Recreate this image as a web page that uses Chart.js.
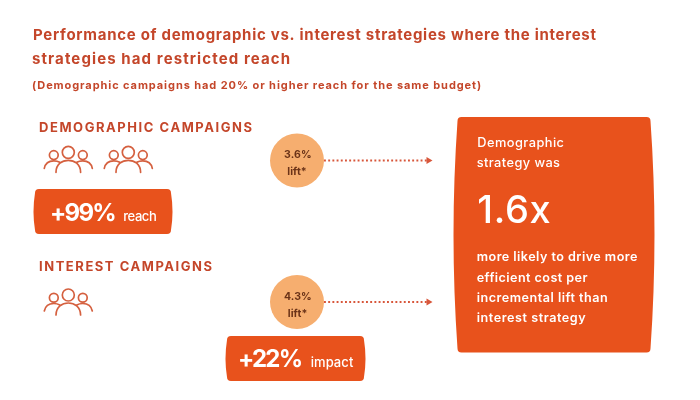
<!DOCTYPE html>
<html><head><meta charset="utf-8">
<style>html,body{margin:0;padding:0;background:#fff}canvas{display:block}</style>
<script src="https://cdn.jsdelivr.net/npm/chart.js@4"></script>
</head><body>
<canvas id="c" width="700" height="400"></canvas>
<script>
// ---- data ----
const titleLines = ["Performance of demographic vs. interest strategies where the interest", "strategies had restricted reach"];
const subtitle = "(Demographic campaigns had 20% or higher reach for the same budget)";
const categories = ["DEMOGRAPHIC CAMPAIGNS", "INTEREST CAMPAIGNS"];
const liftValues = [3.6, 4.3];
const gainValues = [99, 22];
const gainUnits = ["reach", "impact"];
const iconCounts = [2, 1];
const multiplier = 1.6;
const panelIntro = ["Demographic", "strategy was"];
const panelBody = ["more likely to drive more", "efficient cost per", "incremental lift than", "interest strategy"];

// ---- layout (scale units equal canvas pixels) ----
const FONT = "Inter, 'Noto Sans', sans-serif";
const ORANGE = "#e8521c", HEAD = "#c4462a", PEACH = "#f6ae6f", LINE = "#d5603f";
const rowY = [160.5, 302];
const circleX = 297, arrowX0 = 324, arrowX1 = 428.5;

const liftPoints = liftValues.map((v, i) => ({x: circleX, y: rowY[i], v}));
const arrowSets = rowY.map(y => ({
  type: "scatter", showLine: true, order: 2,
  data: [{x: arrowX0, y}, {x: arrowX1, y}],
  borderColor: "#d8563a", borderWidth: 1.9, borderDash: [1.9, 2.3],
  pointStyle: "triangle", rotation: 90,
  pointRadius: [0, 4], pointBackgroundColor: "#d8563a", pointBorderWidth: 0
}));

function txt(ctx, s, x, base, font, color, width) {
  ctx.save();
  ctx.font = font; ctx.fillStyle = color; ctx.textAlign = "left"; ctx.textBaseline = "alphabetic";
  ctx.letterSpacing = "0px";
  if (width) {
    const m = ctx.measureText(s).width;
    ctx.letterSpacing = ((width - m) / Math.max(1, s.length - 1)).toFixed(3) + "px";
  }
  ctx.fillText(s, x, base);
  ctx.restore();
}
function barrel(ctx, X, Y, x0, y0, x1, y1, b, r, color) {
  const l = X(x0), t = Y(y0), R = X(x1), B = Y(y1), m = (t + B) / 2;
  ctx.save(); ctx.fillStyle = color; ctx.beginPath();
  ctx.moveTo(l + r, t); ctx.lineTo(R - r, t);
  ctx.quadraticCurveTo(R, t, R, t + r);
  ctx.quadraticCurveTo(R + 2 * b, m, R, B - r);
  ctx.quadraticCurveTo(R, B, R - r, B);
  ctx.lineTo(l + r, B);
  ctx.quadraticCurveTo(l, B, l, B - r);
  ctx.quadraticCurveTo(l - 2 * b, m, l, t + r);
  ctx.quadraticCurveTo(l, t, l + r, t);
  ctx.closePath(); ctx.fill(); ctx.restore();
}
function people(ctx, X, Y, cx, headY) {
  const x = X(cx), y = Y(headY);
  ctx.save(); ctx.strokeStyle = LINE; ctx.lineWidth = 1.7; ctx.lineCap = "round";
  const p = () => ctx.beginPath();
  p(); ctx.arc(x, y, 6, 0, 2 * Math.PI); ctx.stroke();
  p(); ctx.arc(x - 14.5, y + 2.8, 4.4, 0, 2 * Math.PI); ctx.stroke();
  p(); ctx.arc(x + 14.5, y + 2.8, 4.4, 0, 2 * Math.PI); ctx.stroke();
  p(); ctx.moveTo(x - 12.3, y + 20); ctx.bezierCurveTo(x - 12.3, y + 11.5, x - 6, y + 8, x, y + 8);
  ctx.bezierCurveTo(x + 6, y + 8, x + 12.3, y + 11.5, x + 12.3, y + 20); ctx.stroke();
  p(); ctx.moveTo(x - 24, y + 16); ctx.bezierCurveTo(x - 23, y + 11, x - 19, y + 8.5, x - 14.5, y + 8.5);
  ctx.quadraticCurveTo(x - 11, y + 8.5, x - 8.5, y + 10); ctx.stroke();
  p(); ctx.moveTo(x + 24, y + 16); ctx.bezierCurveTo(x + 23, y + 11, x + 19, y + 8.5, x + 14.5, y + 8.5);
  ctx.quadraticCurveTo(x + 11, y + 8.5, x + 8.5, y + 10); ctx.stroke();
  ctx.restore();
}

const infographic = {
  id: "infographic",
  beforeDatasetsDraw(chart) {
    const {ctx, scales} = chart;
    const X = v => scales.x.getPixelForValue(v), Y = v => scales.y.getPixelForValue(v);
    barrel(ctx, X, Y, 35, 189, 171, 234, 1.5, 4, ORANGE);
    barrel(ctx, X, Y, 227, 336, 364, 381, 1.5, 4, ORANGE);
    barrel(ctx, X, Y, 457.5, 117, 650.5, 352.5, 4, 4, ORANGE);
    const iconY = [152.3, 295];
    iconCounts.forEach((n, i) => { for (let k = 0; k < n; k++) people(ctx, X, Y, 68.3 + 60 * k, iconY[i]); });
  },
  afterDatasetsDraw(chart) {
    const {ctx, scales} = chart;
    const X = v => scales.x.getPixelForValue(v), Y = v => scales.y.getPixelForValue(v);
    const t = (s, x, y, f, c, w) => txt(ctx, s, X(x), Y(y), f, c, w);
    t(titleLines[0], 33, 39.5, `700 15px ${FONT}`, HEAD, 563);
    t(titleLines[1], 32, 64, `700 15px ${FONT}`, HEAD, 258);
    t(subtitle, 32, 89, `700 11px ${FONT}`, HEAD, 449);
    t(categories[0], 39, 132, `700 13px ${FONT}`, HEAD, 213);
    t(categories[1], 39, 270.7, `700 13px ${FONT}`, HEAD, 173);
    // lift circles
    const dark = "#6b3318";
    t(liftValues[0].toFixed(1) + "%", 284, 157.7, `700 10.5px ${FONT}`, dark, 27.7);
    t("lift*", 287.3, 175, `700 10.5px ${FONT}`, dark, 19.4);
    t(liftValues[1].toFixed(1) + "%", 284, 300, `700 10.5px ${FONT}`, dark, 27.7);
    t("lift*", 287.7, 316.7, `700 10.5px ${FONT}`, dark, 19.6);
    // gain badges
    t("+" + gainValues[0] + "%", 50, 220.7, `700 24px ${FONT}`, "#fff", 66.7);
    t(gainUnits[0], 123.3, 220.7, `500 13px ${FONT}`, "#fff", 33.4);
    t("+" + gainValues[1] + "%", 238, 366.7, `700 24px ${FONT}`, "#fff", 65);
    t(gainUnits[1], 310.7, 366.7, `500 13px ${FONT}`, "#fff", 42.6);
    // panel
    t(panelIntro[0], 477.3, 146.7, `500 12.8px ${FONT}`, "#fff", 86.7);
    t(panelIntro[1], 476.7, 167.3, `500 12.8px ${FONT}`, "#fff", 83.3);
    t(multiplier.toFixed(1) + "x", 477.3, 223.3, `500 38px ${FONT}`, "#fff", 73.4);
    const ys = [261.3, 281.7, 301.7, 321.7], ws = [160.7, 110.7, 131, 109];
    panelBody.forEach((s, i) => t(s, 476.7, ys[i], `600 12.6px ${FONT}`, "#fff", ws[i]));
  }
};

new Chart(document.getElementById("c"), {
  type: "scatter",
  data: {
    labels: categories,
    datasets: [
      {label: "Lift", data: liftPoints, order: 1, pointRadius: 27, pointBackgroundColor: PEACH, pointBorderWidth: 0},
      ...arrowSets
    ]
  },
  options: {
    responsive: false, animation: false, devicePixelRatio: 1,
    layout: {padding: 0, autoPadding: false},
    plugins: {legend: {display: false}, tooltip: {enabled: false}, title: {display: false}},
    scales: {
      x: {type: "linear", min: 0, max: 700, display: false},
      y: {type: "linear", min: 0, max: 400, reverse: true, display: false}
    }
  },
  plugins: [infographic]
});
</script>
</body></html>
